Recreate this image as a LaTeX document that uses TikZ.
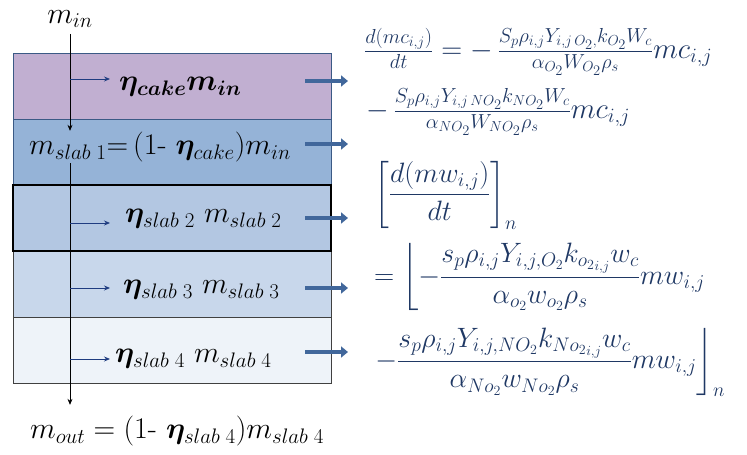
\RequirePackage{fix-cm}
\documentclass[tikz,border=0pt]{standalone}
\usepackage{amsmath,amssymb}
\usepackage{bm}
\usepackage{xcolor}
\usetikzlibrary{positioning,calc,arrows.meta}
\definecolor{cakebg}{HTML}{C1AFD1}
\definecolor{slabAbg}{HTML}{95B3D7}
\definecolor{slabBbg}{HTML}{B3C7E2}
\definecolor{slabCbg}{HTML}{C8D7EB}
\definecolor{slabDbg}{HTML}{EEF3F9}
\definecolor{edgeblue}{HTML}{3B5A85}
\definecolor{eqblue}{HTML}{1F3864}
\definecolor{fatblue}{HTML}{41679B}
\definecolor{navy}{HTML}{1F3C80}

\begin{document}
\begin{tikzpicture}[x=1pt, y=-1pt,
  layer/.style={rectangle, draw=#1, minimum width=318pt, minimum height=66pt,
    inner sep=0pt, outer sep=0pt, line width=0.8pt},
  lbl/.style={inner sep=1pt, font=\fontsize{30}{36}\selectfont},
  eq/.style={inner sep=0pt, anchor=west, text=eqblue, font=\fontsize{28}{34}\selectfont},
  flow/.style={-{Stealth[length=6pt,width=5pt]}, line width=0.8pt},
  feed/.style={-{Stealth[length=6pt,width=5pt]}, navy, line width=0.8pt},
  fat/.style={-{Triangle[length=7pt,width=11pt]}, fatblue, line width=4.5pt}]
  \useasboundingbox (0,0) rectangle (747,455);

  % Filter layers
  \node[layer=edgeblue, fill=cakebg] (cake) at (172,86) {};
  \node[layer=edgeblue, fill=slabAbg, below=0pt of cake] (slab1) {};
  \node[layer=black, fill=slabBbg, below=0pt of slab1] (slab2) {};
  \node[layer=black!75, fill=slabCbg, below=0pt of slab2] (slab3) {};
  \node[layer=black!75, fill=slabDbg, below=0pt of slab3] (slab4) {};
  \draw[line width=1.1pt] (slab2.north west) rectangle (slab2.south east);

  % Mass labels
  \node[lbl] (min) at (70,19) {$m_{in}$};
  \node[lbl, anchor=west] (lblcake) at (118,87) {$\bm{\eta_{cake}m_{in}}$};
  \node[lbl] (lbl1) at (160,147) {$m_{slab\;1}{=}\,(1\text{- }\bm{\eta}_{cake})m_{in}$};
  \node[lbl, anchor=west] (lbl2) at (124,219) {$\bm{\eta}_{slab\;2}\ m_{slab\;2}$};
  \node[lbl, anchor=west] (lbl3) at (122,290) {$\bm{\eta}_{slab\;3}\ m_{slab\;3}$};
  \node[lbl, anchor=west] (lbl4) at (114,359) {$\bm{\eta}_{slab\;4}\ m_{slab\;4}$};
  \node[lbl] (mout) at (177,431) {$m_{out}=(1\text{- }\bm{\eta}_{slab\;4})m_{slab\;4}$};

  % Mass flow through the layers
  \draw[flow] ([yshift=-5pt]min.south) -- (min.south |- lbl1.north);
  \draw[flow] (min.south |- lbl1.south) -- ($(min.south |- mout.north)+(0,-10)$);

  \coordinate (tipcake) at (110,79);
  \coordinate (tip2) at (110,223);
  \coordinate (tip3) at (110,288);
  \coordinate (tip4) at (110,359);
  \foreach \t in {tipcake,tip2,tip3,tip4}
    \draw[feed] (min.south |- \t) -- (\t);

  % Outflow to the equations
  \foreach \lay/\dy in {cake/-5,slab1/-8,slab2/0,slab3/4,slab4/2}
    \draw[fat] ([shift={(-26,\dy)}]\lay.east) -- ++(43,0);

  % Reaction equations
  \node[eq, font=\fontsize{29}{34}\selectfont] (eqA) at (364,52)
    {$\tfrac{d(mc_{i,j})}{dt}=-\,\tfrac{S_p\rho_{i,j}Y_{i,j\,O_2,}k_{O_2}W_c}{\alpha_{O_2}W_{O_2}\rho_s}mc_{i,j}$};
  \node[eq, font=\fontsize{29}{34}\selectfont] (eqB) at (366,112)
    {$-\,\tfrac{S_p\rho_{i,j}Y_{i,j\,NO_2}k_{NO_2}W_c}{\alpha_{NO_2}W_{NO_2}\rho_s}mc_{i,j}$};
  \node[eq] (eqC) at (374,195)
    {$\left[\dfrac{d(mw_{i,j})}{dt}\right]_n$};
  \node[eq] (eqD) at (374,277)
    {$=\left\lfloor-\dfrac{s_p\rho_{i,j}Y_{i,j,O_2}k_{{o_2}_{i,j}}w_c}{\alpha_{o_2}w_{o_2}\rho_s}mw_{i,j}\right.$};
  \node[eq] (eqE) at (374,362)
    {$\left.-\dfrac{s_p\rho_{i,j}Y_{i,j,NO_2}k_{{No_2}_{i,j}}w_c}{\alpha_{No_2}w_{No_2}\rho_s}mw_{i,j}\right\rfloor_n$};
\end{tikzpicture}
\end{document}
